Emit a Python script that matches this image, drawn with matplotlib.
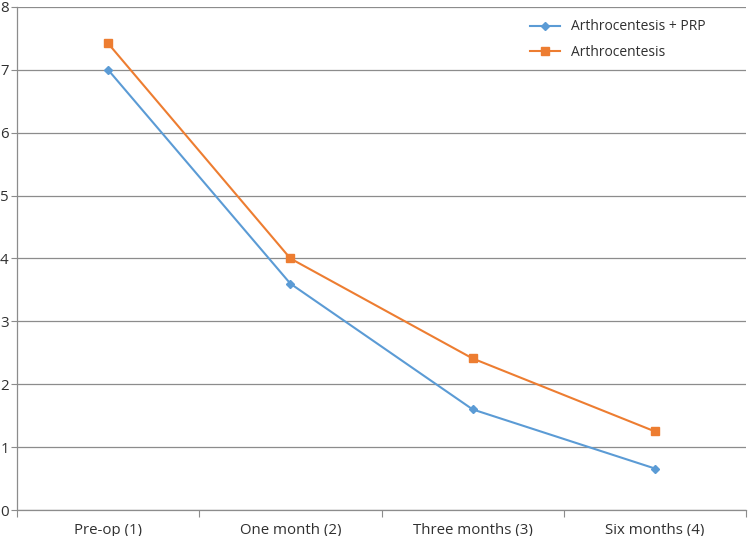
import matplotlib
matplotlib.use("Agg")
import matplotlib.pyplot as plt
import numpy as np
from matplotlib.ticker import FixedLocator, NullFormatter

plt.rcParams["font.family"] = ["Open Sans", "DejaVu Sans"]

categories = ["Pre-op (1)", "One month (2)", "Three months (3)", "Six months (4)"]
prp_values = [7.0, 3.6, 1.6, 0.66]
arthro_values = [7.42, 4.0, 2.41, 1.25]

blue = "#5B9BD5"
orange = "#ED7D31"
grid_col = "#8C8C8C"
text_col = "#303030"

fig = plt.figure(figsize=(7.49, 5.36), dpi=100)
ax = fig.add_axes([0.0227, 0.0485, 0.9733, 0.9385])

xs = np.arange(len(categories)) + 0.5
ax.plot(xs, prp_values, color=blue, linewidth=1.5, marker="D",
        markersize=4.5, label="Arthrocentesis + PRP")
ax.plot(xs, arthro_values, color=orange, linewidth=1.5, marker="s",
        markersize=5.5, label="Arthrocentesis")

ax.set_xlim(0, len(categories))
ax.set_ylim(0, 8)
ax.set_yticks(np.arange(0, 9, 1))
ax.yaxis.grid(True, color=grid_col, linewidth=0.9)
ax.set_axisbelow(True)

# category boundaries get tick marks, labels sit in between
ax.xaxis.set_major_locator(FixedLocator(np.arange(0, len(categories) + 1)))
ax.xaxis.set_major_formatter(NullFormatter())
ax.xaxis.set_minor_locator(FixedLocator(xs))
ax.set_xticklabels(categories, minor=True)
ax.tick_params(axis="x", which="major", length=5, color=grid_col, direction="out")
ax.tick_params(axis="x", which="minor", length=0, pad=9, labelsize=10.8, labelcolor=text_col)
ax.tick_params(axis="y", length=4, color=grid_col, pad=2, labelsize=10.8, labelcolor=text_col)

for side in ["top", "right"]:
    ax.spines[side].set_visible(False)
for side in ["left", "bottom"]:
    ax.spines[side].set_color(grid_col)
    ax.spines[side].set_linewidth(0.9)

leg = ax.legend(loc="upper right", bbox_to_anchor=(0.962, 1.0), frameon=False,
                fontsize=10, handlelength=2.2, labelspacing=0.75)
for t in leg.get_texts():
    t.set_color(text_col)

fig.savefig("out.png", dpi=100)
